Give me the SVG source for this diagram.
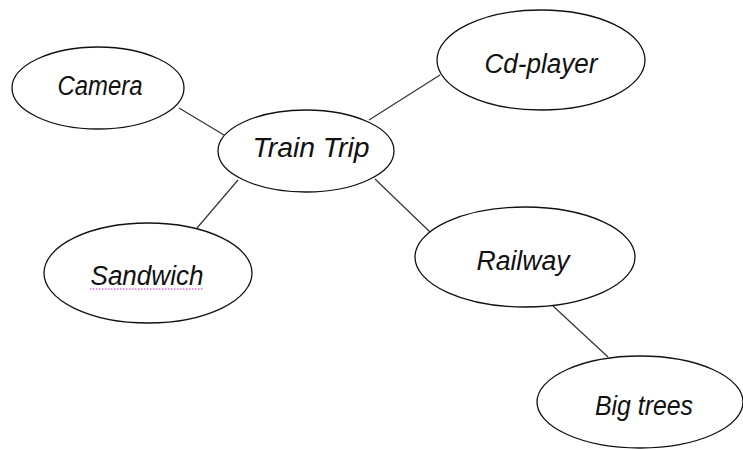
<svg xmlns="http://www.w3.org/2000/svg" width="743" height="450" viewBox="0 0 743 450">
<style>
.n{fill:#fff;stroke:#111;stroke-width:1.3}
.c{stroke:#333;stroke-width:1.2;fill:none}
.t{font-family:"Liberation Sans",Arial,sans-serif;font-style:italic;font-size:27px;fill:#111;text-anchor:middle}
</style>
<rect width="743" height="450" fill="#fff"/>
<g id="connectors">
<line class="c" x1="179" y1="108" x2="224" y2="135"/>
<line class="c" x1="369" y1="120" x2="440" y2="75"/>
<line class="c" x1="238" y1="180" x2="197" y2="228"/>
<line class="c" x1="375" y1="179" x2="430" y2="232"/>
<line class="c" x1="553" y1="306" x2="608" y2="357"/>
</g>
<g id="camera">
<ellipse class="n" cx="98" cy="88" rx="86" ry="41"/>
<text class="t" x="100" y="95" textLength="85" lengthAdjust="spacingAndGlyphs">Camera</text>
</g>
<g id="train-trip">
<ellipse class="n" cx="306" cy="151" rx="88" ry="41"/>
<text class="t" x="311" y="157" textLength="117" lengthAdjust="spacingAndGlyphs">Train Trip</text>
</g>
<g id="cd-player">
<ellipse class="n" cx="541" cy="60" rx="104" ry="50"/>
<text class="t" x="541" y="73" textLength="113" lengthAdjust="spacingAndGlyphs">Cd-player</text>
</g>
<g id="sandwich">
<ellipse class="n" cx="148" cy="273" rx="104" ry="50"/>
<text class="t" x="147" y="285" textLength="113" lengthAdjust="spacingAndGlyphs">Sandwich</text>
<line x1="90" y1="289" x2="203" y2="289" stroke="#d020d0" stroke-width="1" stroke-dasharray="1.5 1.5"/>
</g>
<g id="railway">
<ellipse class="n" cx="525" cy="257" rx="110" ry="50"/>
<text class="t" x="523" y="270" textLength="93" lengthAdjust="spacingAndGlyphs">Railway</text>
</g>
<g id="big-trees">
<ellipse class="n" cx="640" cy="402" rx="103" ry="46"/>
<text class="t" x="644" y="415" textLength="98" lengthAdjust="spacingAndGlyphs">Big trees</text>
</g>
</svg>
